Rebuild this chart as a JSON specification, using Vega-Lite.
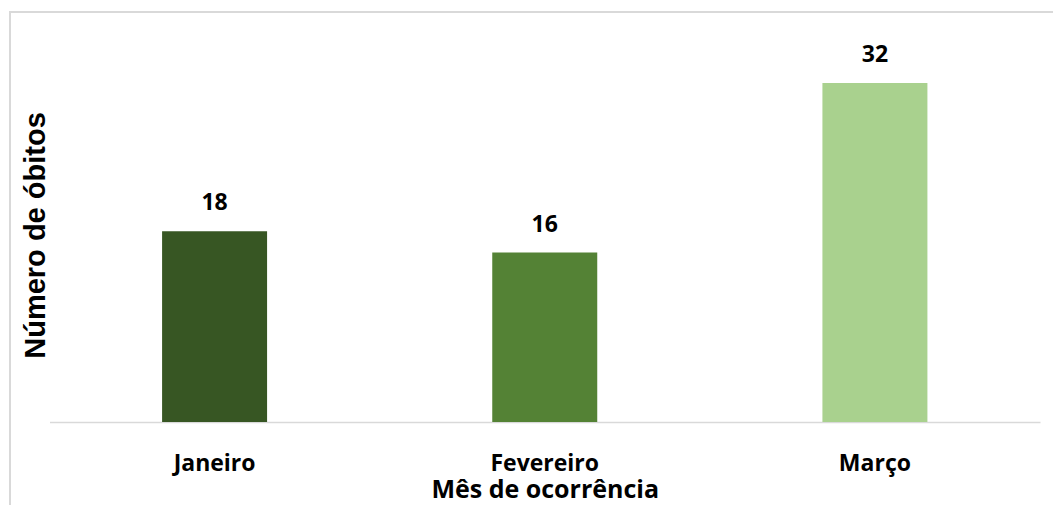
{
  "$schema": "https://vega.github.io/schema/vega-lite/v6.json",
  "width": 1050,
  "height": 500,
  "autosize": {"type": "none"},
  "padding": {"left": 10, "top": 12, "right": 0, "bottom": 0},
  "background": "white",
  "config": {"view": {"stroke": "#d9d9d9", "strokeWidth": 2}, "font": "Open Sans"},
  "data": {"values": [
    {"mes": "Janeiro", "obitos": 18},
    {"mes": "Fevereiro", "obitos": 16},
    {"mes": "Março", "obitos": 32}
  ]},
  "encoding": {
    "x": {
      "field": "mes", "type": "nominal", "sort": null,
      "scale": {"range": [39.5, 1030], "paddingInner": 0.682, "paddingOuter": 0.341},
      "axis": {
        "title": "Mês de ocorrência", "ticks": false, "domainColor": "#d9d9d9", "domainWidth": 1.5,
        "labelAngle": 0, "labelFontSize": 23, "labelFontWeight": "bold", "labelColor": "black",
        "labelPadding": 30, "offset": -90, "titleFontSize": 25, "titleFontWeight": "bold",
        "titleColor": "black", "titlePadding": 2
      }
    },
    "y": {
      "field": "obitos", "type": "quantitative",
      "scale": {"domain": [0, 32], "range": [410, 71], "nice": false},
      "axis": {
        "title": "Número de óbitos", "labels": false, "ticks": false, "domain": false, "grid": false,
        "offset": -40, "titleFont": "Liberation Sans", "titleFontSize": 29, "titleFontWeight": "bold",
        "titleColor": "black", "titlePadding": 0, "titleY": 223
      }
    }
  },
  "layer": [
    {
      "mark": {"type": "bar"},
      "encoding": {
        "color": {
          "field": "mes", "type": "nominal",
          "scale": {"domain": ["Janeiro", "Fevereiro", "Março"], "range": ["#375623", "#548235", "#A9D18E"]},
          "legend": null
        }
      }
    },
    {
      "mark": {"type": "text", "dy": -28, "fontSize": 23, "fontWeight": "bold", "color": "black"},
      "encoding": {"text": {"field": "obitos", "type": "quantitative"}}
    }
  ]
}
